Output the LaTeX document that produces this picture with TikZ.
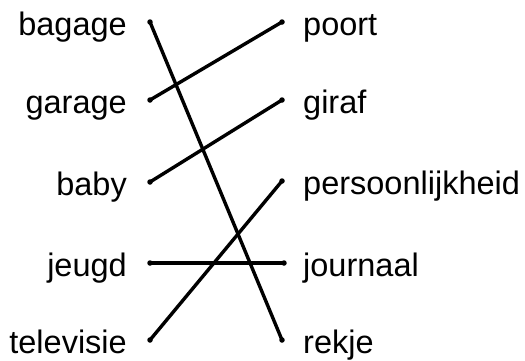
\documentclass[tikz,border=0pt]{standalone}
\usepackage{fontspec}
\setmainfont{Liberation Sans}
\begin{document}
\begin{tikzpicture}[x=1pt,y=-1pt,
  word/.style={inner sep=0pt,font=\fontsize{32.5}{36}\selectfont},
  lword/.style={word,anchor=base east},
  rword/.style={word,anchor=base west},
  dot/.style={circle,fill=black,inner sep=0pt,minimum size=5.5pt},
  link/.style={line width=3.4pt,line cap=round}]
\useasboundingbox (0,0) rectangle (525,360);
% left dots
\node[dot] (l1) at (150,22) {};
\node[dot] (l2) at (150,100) {};
\node[dot] (l3) at (150,182) {};
\node[dot] (l4) at (150,263) {};
\node[dot] (l5) at (150,340) {};
% right dots
\node[dot] (r1) at (282,22) {};
\node[dot] (r2) at (282,100) {};
\node[dot] (r3) at (282,181) {};
\node[dot] (r4) at (284,263) {};
\node[dot] (r5) at (282,340) {};
% left words
\node[lword] (tl1) at (127,35) {bagage};
\node[lword] (tl2) at (127,113) {garage};
\node[lword] (tl3) at (127,195) {baby};
\node[lword] (tl4) at (127,276) {jeugd};
\node[lword] (tl5) at (127,353) {televisie};
% right words
\node[rword] (tr1) at (303,35) {poort};
\node[rword] (tr2) at (303,113) {giraf};
\node[rword] (tr3) at (303,194) {persoonlijkheid};
\node[rword] (tr4) at (303,276) {journaal};
\node[rword] (tr5) at (303,353) {rekje};
% connections
\draw[link] (l1.center) -- (r5.center);
\draw[link] (l2.center) -- (r1.center);
\draw[link] (l3.center) -- (r2.center);
\draw[link] (l4.center) -- (r4.center);
\draw[link] (l5.center) -- (r3.center);
\end{tikzpicture}
\end{document}
